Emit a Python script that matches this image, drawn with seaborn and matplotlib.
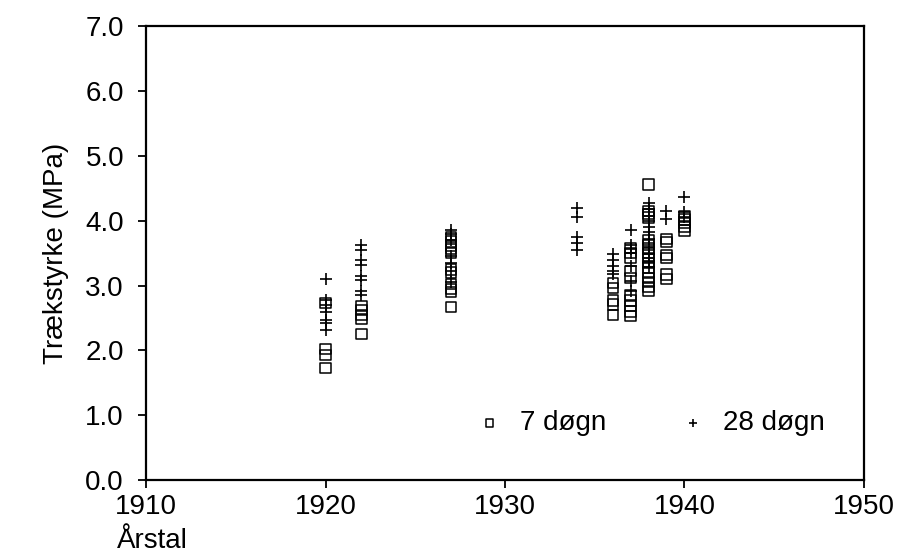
import pandas as pd
import matplotlib
matplotlib.use("Agg")
import matplotlib.pyplot as plt
import seaborn as sns

# 7 døgn (open squares)
aar_7 = [1920] * 4 + [1922] * 5 + [1927] * 11 + [1936] * 5 + [1937] * 10 + [1938] * 16 + [1939] * 6 + [1940] * 5
styrke_7 = [
    2.73, 2.02, 1.93, 1.73,
    2.68, 2.62, 2.55, 2.48, 2.25,
    3.75, 3.68, 3.62, 3.56, 3.50, 3.25, 3.20, 3.02, 2.95, 2.90, 2.67,
    3.04, 2.96, 2.77, 2.71, 2.55,
    3.58, 3.50, 3.43, 3.23, 3.12, 2.85, 2.77, 2.68, 2.60, 2.53,
    4.56, 4.15, 4.10, 4.05, 3.70, 3.63, 3.57, 3.50, 3.42, 3.35, 3.28, 3.20, 3.12, 3.05, 2.98, 2.92,
    3.72, 3.67, 3.47, 3.42, 3.17, 3.10,
    4.07, 4.02, 3.97, 3.90, 3.85,
]

# 28 døgn (plus)
aar_28 = [1920] * 7 + [1922] * 8 + [1927] * 7 + [1934] * 5 + [1936] * 5 + [1937] * 7 + [1938] * 11 + [1939] * 2 + [1940] * 3
styrke_28 = [
    3.10, 2.78, 2.70, 2.60, 2.47, 2.42, 2.32,
    3.62, 3.55, 3.40, 3.32, 3.15, 3.08, 2.92, 2.86,
    3.85, 3.80, 3.70, 3.45, 3.35, 3.22, 3.05,
    4.20, 4.05, 3.75, 3.65, 3.55,
    3.48, 3.40, 3.30, 3.22, 3.18,
    3.85, 3.62, 3.56, 3.50, 3.30, 3.07, 2.92,
    4.27, 4.18, 4.08, 4.00, 3.90, 3.82, 3.72, 3.60, 3.48, 3.38, 3.28,
    4.15, 4.02,
    4.37, 4.13, 4.05,
]

x_ticks = [1910, 1920, 1930, 1940, 1950]
y_ticks = [0, 1, 2, 3, 4, 5, 6, 7]

df7 = pd.DataFrame({"Årstal": aar_7, "Styrke": styrke_7})
df28 = pd.DataFrame({"Årstal": aar_28, "Styrke": styrke_28})

sns.set_style("white")
plt.rcParams["font.family"] = ["Liberation Sans", "DejaVu Sans"]
plt.rcParams["text.color"] = "black"

fig = plt.figure(figsize=(8.97, 5.57), dpi=100)
ax = fig.add_axes([0.163, 0.138, 0.800, 0.815])

sns.scatterplot(data=df7, x="Årstal", y="Styrke", ax=ax, marker="s", s=55,
                facecolor="none", edgecolor="black", linewidth=1.1, label="7 døgn")
sns.scatterplot(data=df28, x="Årstal", y="Styrke", ax=ax, marker="+", s=80,
                color="black", linewidth=1.2, label="28 døgn")

ax.set_xlim(1910, 1950)
ax.set_ylim(0, 7)
ax.set_xticks(x_ticks)
ax.set_yticks(y_ticks)
ax.set_yticklabels([f"{v:.1f}" for v in y_ticks])
ax.tick_params(axis="both", direction="out", length=6, width=1.3, labelsize=20,
               colors="black", bottom=True, left=True)
ax.tick_params(axis="x", pad=4)
ax.tick_params(axis="y", pad=10)
for sp in ax.spines.values():
    sp.set_color("black")
    sp.set_linewidth(1.6)

ax.set_xlabel("")
ax.set_ylabel("Trækstyrke (MPa)", fontsize=20, labelpad=12, color="black")
fig.text(0.13, 0.005, "Årstal", fontsize=20, ha="left", va="bottom")

ax.legend(loc="center left", ncol=2, frameon=False, fontsize=20, markerscale=0.7,
          handlelength=1.0, handletextpad=0.6, columnspacing=2.6, borderpad=0,
          bbox_to_anchor=(0.44, 0.125))

fig.savefig("out.png", dpi=100)
